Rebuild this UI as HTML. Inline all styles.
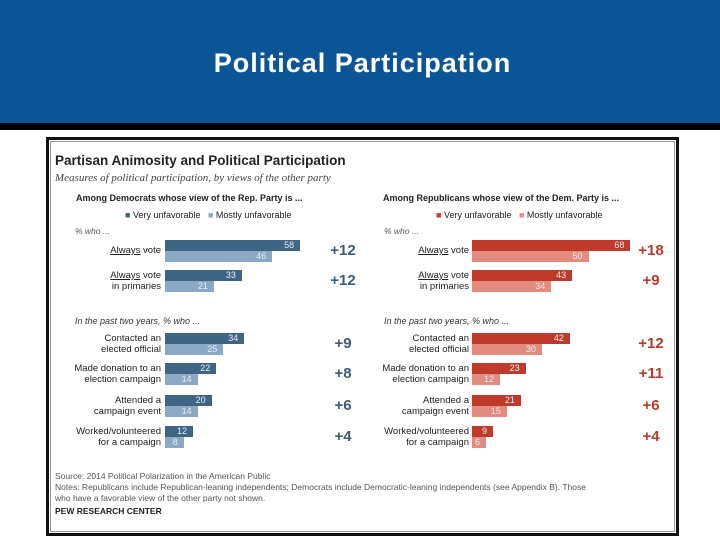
<!DOCTYPE html>
<html><head><meta charset="utf-8"><style>
body{margin:0;width:720px;height:540px;background:#fff;position:relative;overflow:hidden;font-family:"Liberation Sans",sans-serif}
.a{position:absolute}
#hdr{left:0;top:0;width:720px;height:123px;background:#0b5597}
#blk{left:0;top:123px;width:720px;height:7px;background:#000}
#title{left:0;top:48px;width:725px;text-align:center;color:#fff;font-size:27px;font-weight:bold;letter-spacing:1px}
#frame{left:46px;top:137px;width:627px;height:393px;border:3px solid #111;outline:1px solid #999;outline-offset:-5px;background:#fff}
.t{position:absolute;white-space:nowrap;color:#222}
.lab{position:absolute;text-align:right;font-size:9.5px;line-height:11px;color:#222;width:120px}
.val{position:absolute;font-size:9px;color:#e8eef4;text-align:right}
.diff{position:absolute;font-size:15px;font-weight:bold;text-align:center;width:40px}
</style></head><body>
<div class="a" id="hdr"></div>
<div class="a" id="blk"></div>
<div class="a" id="title">Political Participation</div>
<div class="a" id="frame"></div>
<div class="t" style="left:55px;top:153px;font-size:13.5px;font-weight:bold;color:#222">Partisan Animosity and Political Participation</div>
<div class="t" style="left:55px;top:172px;font-size:11px;font-style:italic;font-family:'Liberation Serif',serif;color:#444">Measures of political participation, by views of the other party</div>
<div class="t" style="left:76px;top:193px;font-size:9px;font-weight:bold">Among Democrats whose view of the Rep. Party is ...</div>
<div class="t" style="left:383px;top:193px;font-size:9px;font-weight:bold">Among Republicans whose view of the Dem. Party is ...</div>
<div class="t" style="left:125px;top:210px;font-size:9px"><span style="color:#3f6584">■</span> Very unfavorable &nbsp; <span style="color:#8ba8c4">■</span> Mostly unfavorable</div>
<div class="t" style="left:436px;top:210px;font-size:9px"><span style="color:#be3b2c">■</span> Very unfavorable &nbsp; <span style="color:#e38b7f">■</span> Mostly unfavorable</div>
<div class="t" style="left:75px;top:226px;font-size:8.5px;font-style:italic;color:#555">% who ...</div>
<div class="t" style="left:384px;top:226px;font-size:8.5px;font-style:italic;color:#555">% who ...</div>
<div class="t" style="left:75px;top:316px;font-size:9px;font-style:italic;color:#333">In the past two years, % who ...</div>
<div class="t" style="left:384px;top:316px;font-size:9px;font-style:italic;color:#333">In the past two years, % who ...</div>
<div class="t" style="left:55px;top:471px;font-size:8.5px;line-height:11px;color:#555">Source: 2014 Political Polarization in the American Public<br>Notes: Republicans include Republican-leaning independents; Democrats include Democratic-leaning independents (see Appendix B). Those<br>who have a favorable view of the other party not shown.</div>
<div class="t" style="left:55px;top:506px;font-size:8.5px;font-weight:bold">PEW RESEARCH CENTER</div>
<div id="chart"></div>
<script>
const categories=["Always vote","Always vote in primaries","Contacted an elected official","Made donation to an election campaign","Attended a campaign event","Worked/volunteered for a campaign"];
const labels=[["<u>Always</u> vote"],["<u>Always</u> vote","in primaries"],["Contacted an","elected official"],["Made donation to an","election campaign"],["Attended a","campaign event"],["Worked/volunteered","for a campaign"]];
const demVery=[58,33,34,22,20,12];
const demMostly=[46,21,25,14,14,8];
const demDiff=[12,12,9,8,6,4];
const repVery=[68,43,42,23,21,9];
const repMostly=[50,34,30,12,15,6];
const repDiff=[18,9,12,11,6,4];
const rowTops=[240,270,333,363,395,426];
const root=document.getElementById('chart');
const scale=v=>v*2.33;
function panel(x0,labX,diffX,very,mostly,diffs,cV,cM,dColor,side){
 categories.forEach((c,i)=>{
  const top=rowTops[i];
  const l=document.createElement('div');l.className='lab';
  
  
  l.style.left=(labX-120)+'px';
  l.style.top=(labels[i].length==1?top+5:top)+'px';
  l.innerHTML=labels[i].join('<br>');root.appendChild(l);
  [[very[i],cV,0,'very'],[mostly[i],cM,11,'mostly']].forEach(([v,col,dy,k])=>{
   const b=document.createElement('div');b.className='a';
   
   
   b.style.cssText=`left:${x0}px;top:${top+dy}px;width:${scale(v)}px;height:11px;background:${col}`;
   root.appendChild(b);
   const t=document.createElement('div');t.className='val';
   
   
   t.style.cssText=`left:${x0}px;top:${top+dy}px;width:${scale(v)-6}px;line-height:11px`;
   t.textContent=v;root.appendChild(t);
  });
  const d=document.createElement('div');d.className='diff';
  
  
  d.style.cssText=`left:${diffX-20}px;top:${top+2}px;color:${dColor}`;
  d.textContent='+'+diffs[i];root.appendChild(d);
 });
}
panel(165,161,343,demVery,demMostly,demDiff,'#3f6584','#8ba8c4','#3d5c78','dem');
panel(472,469,651,repVery,repMostly,repDiff,'#be3b2c','#e38b7f','#b83a2b','rep');
</script>
</body></html>
